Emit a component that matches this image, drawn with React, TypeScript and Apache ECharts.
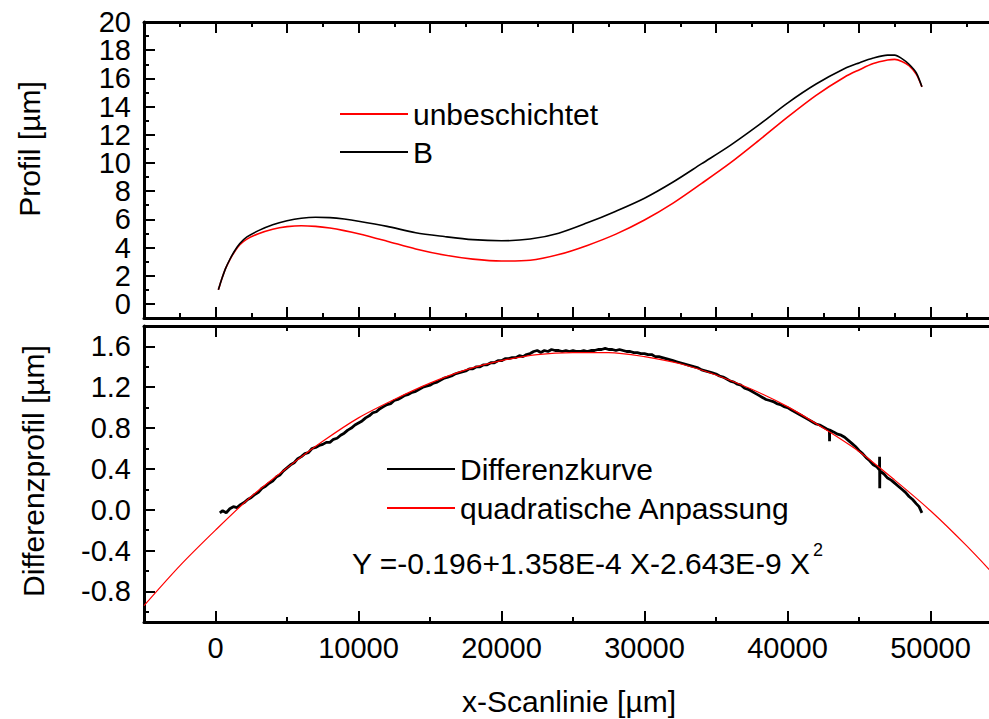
import React, { useEffect, useRef } from "react";
import * as echarts from "echarts";

const FONT = '"Liberation Sans", Arial, Helvetica, sans-serif';

// ---- top panel: profiles ----
const profileX = [200, 400, 700, 1000, 1300, 1700, 2200, 3000, 4000, 5000, 6000, 7000, 8000, 9000, 10000, 12000, 14000, 16000, 18000, 20000, 22000, 24000, 26000, 28000, 30000, 32000, 34000, 36000, 38000, 40000, 42000, 44000, 45000, 46000, 47000, 47500, 48000, 48500, 49000, 49400];
const unbeschichtet = [1.0, 1.65, 2.5, 3.13, 3.65, 4.2, 4.6, 4.98, 5.3, 5.48, 5.55, 5.5, 5.38, 5.2, 4.98, 4.45, 3.9, 3.47, 3.18, 3.04, 3.1, 3.5, 4.15, 4.95, 5.95, 7.15, 8.55, 10.0, 11.6, 13.25, 14.8, 16.1, 16.6, 17.05, 17.3, 17.35, 17.2, 16.9, 16.3, 15.4];
const profileB = [1.0, 1.65, 2.5, 3.15, 3.7, 4.28, 4.75, 5.2, 5.62, 5.9, 6.08, 6.15, 6.12, 6.02, 5.87, 5.5, 5.05, 4.78, 4.56, 4.48, 4.6, 5.02, 5.75, 6.58, 7.5, 8.65, 9.95, 11.25, 12.7, 14.25, 15.6, 16.7, 17.1, 17.45, 17.65, 17.65, 17.4, 17.0, 16.4, 15.4];

// ---- bottom panel: difference curve ----
const diffCurve: [number, number][] = [
  [300, -0.03], [500, -0.01], [750, -0.03], [1000, 0.01], [1250, 0.03], [1500, 0.02], [1750, 0.05], [2000, 0.07],
  [2250, 0.10], [2500, 0.12], [2750, 0.15], [3000, 0.17], [3250, 0.21], [3500, 0.23], [3750, 0.26], [4000, 0.28],
  [4250, 0.32], [4500, 0.34], [4750, 0.38], [5000, 0.41], [5250, 0.44], [5500, 0.46], [5750, 0.50], [6000, 0.52],
  [6250, 0.55], [6500, 0.56], [6750, 0.60], [7000, 0.61], [7250, 0.63], [7500, 0.64], [7750, 0.66], [8000, 0.66],
  [8250, 0.69], [8500, 0.70], [8750, 0.73], [9000, 0.75], [9250, 0.78], [9500, 0.80], [9750, 0.83], [10000, 0.85],
  [10250, 0.87], [10500, 0.90], [10750, 0.92], [11000, 0.95], [11250, 0.96], [11500, 0.99], [11750, 1.01], [12000, 1.03],
  [12250, 1.04], [12500, 1.07], [12750, 1.08], [13000, 1.10], [13250, 1.12], [13500, 1.13], [13750, 1.15], [14000, 1.16],
  [14250, 1.18], [14500, 1.20], [14750, 1.21], [15000, 1.22], [15250, 1.24], [15500, 1.25], [15750, 1.27], [16000, 1.29],
  [16250, 1.30], [16500, 1.31], [16750, 1.33], [17000, 1.34], [17250, 1.35], [17500, 1.36], [17750, 1.38], [18000, 1.38],
  [18250, 1.40], [18500, 1.40], [18750, 1.42], [19000, 1.42], [19250, 1.44], [19500, 1.44], [19750, 1.46], [20000, 1.46],
  [20250, 1.48], [20500, 1.48], [20750, 1.49], [21000, 1.49], [21250, 1.51], [21500, 1.50], [21750, 1.52], [22000, 1.53],
  [22250, 1.55], [22500, 1.56], [22750, 1.54], [23000, 1.56], [23250, 1.55], [23500, 1.57], [23750, 1.56], [24000, 1.56],
  [24250, 1.55], [24500, 1.56], [24750, 1.55], [25000, 1.56], [25250, 1.55], [25500, 1.55], [25750, 1.56], [26000, 1.55],
  [26250, 1.56], [26500, 1.56], [26750, 1.57], [27000, 1.57], [27250, 1.58], [27500, 1.57], [27750, 1.57], [28000, 1.56],
  [28250, 1.57], [28500, 1.56], [28750, 1.55], [29000, 1.55], [29250, 1.54], [29500, 1.54], [29750, 1.53], [30000, 1.53],
  [30250, 1.52], [30500, 1.52], [30750, 1.50], [31000, 1.50], [31250, 1.49], [31500, 1.48], [31750, 1.47], [32000, 1.46],
  [32250, 1.45], [32500, 1.44], [32750, 1.43], [33000, 1.42], [33250, 1.41], [33500, 1.40], [33750, 1.39], [34000, 1.37],
  [34250, 1.36], [34500, 1.35], [34750, 1.34], [35000, 1.33], [35250, 1.31], [35500, 1.30], [35750, 1.28], [36000, 1.26],
  [36250, 1.25], [36500, 1.23], [36750, 1.22], [37000, 1.19], [37250, 1.18], [37500, 1.16], [37750, 1.14], [38000, 1.12],
  [38250, 1.10], [38500, 1.08], [38750, 1.07], [39000, 1.06], [39250, 1.04], [39500, 1.03], [39750, 1.01], [40000, 1.00],
  [40250, 0.98], [40500, 0.96], [40750, 0.94], [41000, 0.92], [41250, 0.90], [41500, 0.88], [41750, 0.86], [42000, 0.84],
  [42250, 0.83], [42500, 0.81], [42750, 0.79], [42930, 0.78], [42940, 0.67], [42950, 0.78], [43250, 0.76], [43500, 0.74],
  [43750, 0.73], [44000, 0.71], [44250, 0.68], [44500, 0.65], [44750, 0.62], [45000, 0.58], [45250, 0.55], [45500, 0.51],
  [45750, 0.48], [46000, 0.44], [46250, 0.42], [46430, 0.39], [46440, 0.52], [46450, 0.21], [46460, 0.38], [46750, 0.35],
  [47000, 0.31], [47250, 0.29], [47500, 0.26], [47750, 0.23], [48000, 0.20], [48250, 0.17], [48500, 0.13], [48750, 0.10],
  [49000, 0.06], [49200, 0.03], [49400, -0.03],
];

// ---- bottom panel: quadratic fit ----
const fitX = [-5000, -2500, 0, 2500, 5000, 7500, 10000, 12500, 15000, 17500, 20000, 22500, 25000, 27500, 30000, 32500, 35000, 37500, 40000, 42500, 45000, 47500, 50000, 52500, 55000];
const fitY = [-0.94, -0.55, -0.2, 0.13, 0.41, 0.67, 0.9, 1.08, 1.24, 1.37, 1.46, 1.52, 1.54, 1.54, 1.5, 1.43, 1.32, 1.18, 1.01, 0.8, 0.57, 0.29, -0.01, -0.35, -0.72];

// ---- ticks & tick labels ----
const xTicksMajorBottom = [0, 10000, 20000, 30000, 40000, 50000];
const xTicksMinorBottom = [5000, 15000, 25000, 35000, 45000];
const yTicksMajorTop = [0, 2, 4, 6, 8, 10, 12, 14, 16, 18, 20];
const yTicksMinorTop = [1, 3, 5, 7, 9, 11, 13, 15, 17, 19];
const yLabelsTopA = [0, 4, 8, 12, 16, 20];
const yLabelsTopB = [2, 6, 10, 14, 18];
const yTicksMajorBottom = [-0.8, -0.4, 0, 0.4, 0.8, 1.2, 1.6];
const yTicksMinorBottom = [-1.0, -0.6, -0.2, 0.2, 0.6, 1.0, 1.4];

const equationText = "Y =-0.196+1.358E-4 X-2.643E-9 X";

export default function App() {
  const ref = useRef<HTMLDivElement>(null);
  useEffect(() => {
    if (!ref.current) return;
    const chart = echarts.init(ref.current, undefined, { renderer: "svg" });
    const frame = { color: "#000", width: 3 };
    const tick = { color: "#000", width: 2 };
    const labelStyle = { color: "#000", fontSize: 29, lineHeight: 24, fontFamily: FONT };

    const xBase = { type: "value", min: -5000, max: 55000, splitLine: { show: false } };
    const xTopPanel = (pos: string) => ({
      ...xBase,
      gridIndex: 0,
      position: pos,
      interval: 5000,
      axisLine: { show: true, onZero: false, lineStyle: frame },
      axisTick: { show: true, inside: true, length: 11, lineStyle: tick },
      minorTick: { show: true, splitNumber: 2, length: 5, lineStyle: tick },
      minorSplitLine: { show: false },
      axisLabel: { show: false },
    });
    const xBottomMajor = (pos: string, labels: boolean) => ({
      ...xBase,
      gridIndex: 1,
      position: pos,
      axisLine: { show: true, onZero: false, lineStyle: frame },
      axisTick: { show: true, inside: true, length: 11, lineStyle: tick, customValues: xTicksMajorBottom },
      axisLabel: labels
        ? { show: true, customValues: xTicksMajorBottom, margin: 14, showMinLabel: true, showMaxLabel: true, ...labelStyle, formatter: (v: number) => String(v) }
        : { show: false },
    });
    const xBottomMinor = (pos: string) => ({
      ...xBase,
      gridIndex: 1,
      position: pos,
      axisLine: { show: false, onZero: false },
      axisTick: { show: true, inside: true, length: 5, lineStyle: tick, customValues: xTicksMinorBottom },
      axisLabel: { show: false },
    });

    const option: any = {
      animation: false,
      backgroundColor: "#fff",
      grid: [
        { left: 144, top: 22, width: 858, height: 296 },
        { left: 144, top: 326, width: 858, height: 296 },
      ],
      xAxis: [
        xTopPanel("bottom"),
        xTopPanel("top"),
        xBottomMajor("bottom", true),
        xBottomMinor("bottom"),
        xBottomMajor("top", false),
        xBottomMinor("top"),
      ],
      yAxis: [
        {
          type: "value", gridIndex: 0, position: "left", min: -1, max: 20,
          splitLine: { show: false },
          axisLine: { show: true, onZero: false, lineStyle: frame },
          axisTick: { show: true, inside: true, length: 11, lineStyle: tick, customValues: yTicksMajorTop },
          axisLabel: { show: true, customValues: yLabelsTopA, margin: 13, showMinLabel: true, showMaxLabel: true, ...labelStyle, formatter: (v: number) => String(v) },
        },
        {
          type: "value", gridIndex: 0, position: "left", min: -1, max: 20,
          splitLine: { show: false },
          axisLine: { show: false, onZero: false },
          axisTick: { show: true, inside: true, length: 5, lineStyle: tick, customValues: yTicksMinorTop },
          axisLabel: { show: true, customValues: yLabelsTopB, margin: 13, showMinLabel: true, showMaxLabel: true, ...labelStyle, formatter: (v: number) => String(v) },
        },
        {
          type: "value", gridIndex: 1, position: "left", min: -1.1, max: 1.8,
          splitLine: { show: false },
          axisLine: { show: true, onZero: false, lineStyle: frame },
          axisTick: { show: true, inside: true, length: 11, lineStyle: tick, customValues: yTicksMajorBottom },
          axisLabel: { show: true, customValues: yTicksMajorBottom, margin: 13, showMinLabel: true, showMaxLabel: true, ...labelStyle, formatter: (v: number) => (Math.abs(v) < 1e-9 ? "0.0" : v.toFixed(1)) },
        },
        {
          type: "value", gridIndex: 1, position: "left", min: -1.1, max: 1.8,
          splitLine: { show: false },
          axisLine: { show: false, onZero: false },
          axisTick: { show: true, inside: true, length: 5, lineStyle: tick, customValues: yTicksMinorBottom },
          axisLabel: { show: false },
        },
      ],
      legend: [
        {
          data: ["unbeschichtet", "B"], orient: "vertical", left: 340, top: 99, padding: 0,
          itemWidth: 68, itemHeight: 2, itemGap: 8, icon: "rect", selectedMode: false,
          textStyle: { fontSize: 30, lineHeight: 30, color: "#000", fontFamily: FONT },
        },
        {
          data: ["Differenzkurve", "quadratische Anpassung"], orient: "vertical", left: 387, top: 454, padding: 0,
          itemWidth: 68, itemHeight: 2, itemGap: 9, icon: "rect", selectedMode: false,
          textStyle: { fontSize: 30, lineHeight: 30, color: "#000", fontFamily: FONT },
        },
      ],
      series: [
        {
          name: "unbeschichtet", type: "line", xAxisIndex: 0, yAxisIndex: 0,
          data: profileX.map((x, i) => [x, unbeschichtet[i]]),
          showSymbol: false, symbol: "none", smooth: 0.3,
          lineStyle: { color: "#ff0000", width: 1.6 }, itemStyle: { color: "#ff0000" },
        },
        {
          name: "B", type: "line", xAxisIndex: 0, yAxisIndex: 0,
          data: profileX.map((x, i) => [x, profileB[i]]),
          showSymbol: false, symbol: "none", smooth: 0.3,
          lineStyle: { color: "#000", width: 1.6 }, itemStyle: { color: "#000" },
        },
        {
          name: "Differenzkurve", type: "line", xAxisIndex: 2, yAxisIndex: 2,
          data: diffCurve, showSymbol: false, symbol: "none",
          lineStyle: { color: "#000", width: 2.8 }, itemStyle: { color: "#000" },
        },
        {
          name: "quadratische Anpassung", type: "line", xAxisIndex: 2, yAxisIndex: 2,
          data: fitX.map((x, i) => [x, fitY[i]]),
          showSymbol: false, symbol: "none", smooth: 0.3,
          lineStyle: { color: "#ff0000", width: 1.2 }, itemStyle: { color: "#ff0000" },
        },
      ],
      graphic: [
        {
          type: "text", x: 29, y: 149, rotation: Math.PI / 2,
          style: { text: "Profil [µm]", fontSize: 30, fontFamily: FONT, fill: "#000", align: "center", verticalAlign: "middle" },
        },
        {
          type: "text", x: 33, y: 471, rotation: Math.PI / 2,
          style: { text: "Differenzprofil [µm]", fontSize: 30, fontFamily: FONT, fill: "#000", align: "center", verticalAlign: "middle" },
        },
        {
          type: "text", x: 569, y: 701,
          style: { text: "x-Scanlinie [µm]", fontSize: 30, fontFamily: FONT, fill: "#000", align: "center", verticalAlign: "middle" },
        },
        {
          type: "text", x: 352, y: 563,
          style: { text: equationText, fontSize: 30, fontFamily: FONT, fill: "#000", align: "left", verticalAlign: "middle" },
        },
        {
          type: "text", x: 813, y: 550,
          style: { text: "2", fontSize: 18, fontFamily: FONT, fill: "#000", align: "left", verticalAlign: "middle" },
        },
      ],
    };
    chart.setOption(option);
    return () => chart.dispose();
  }, []);

  return (
    <div style={{ position: "fixed", left: 0, top: 0, width: 989, height: 719, overflow: "hidden", background: "#fff" }}>
      <div ref={ref} style={{ width: 1010, height: 719 }} />
    </div>
  );
}
